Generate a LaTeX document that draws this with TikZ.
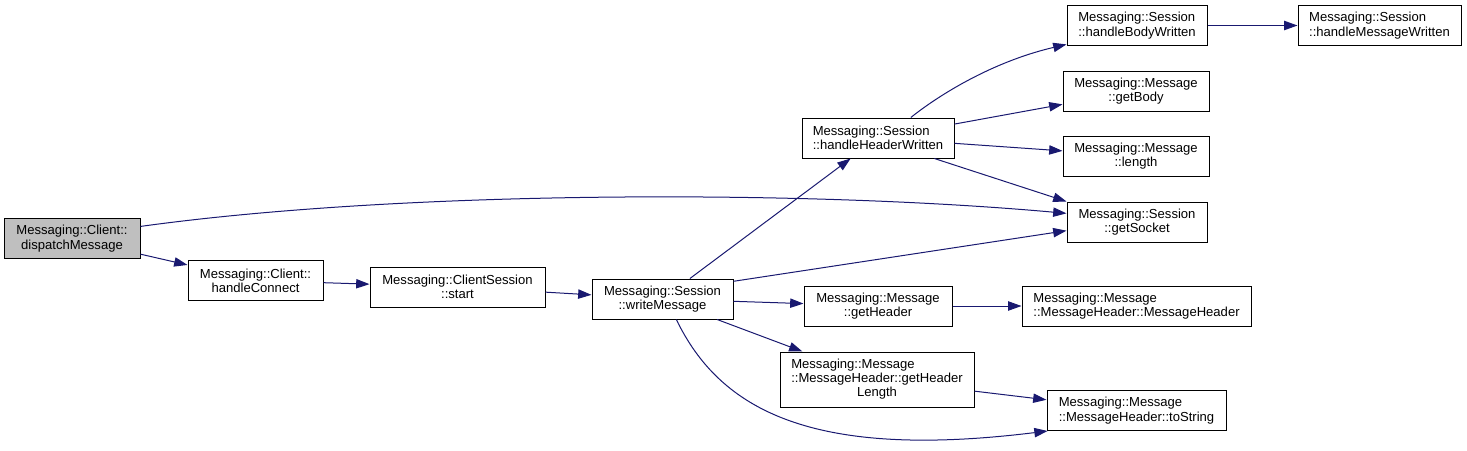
\documentclass[tikz,border=0pt]{standalone}
\usepackage{fontspec}
\setmainfont{Liberation Sans}
\usetikzlibrary{arrows.meta}
\definecolor{DoxEdge}{RGB}{25,25,112}
\definecolor{DoxGray}{RGB}{191,191,191}

\begin{document}
\begin{tikzpicture}[x=0.75pt, y=-0.75pt,
    fn/.style={rectangle, draw=black, line width=0.75pt, fill=white,
               inner sep=2pt, minimum height=30pt, align=center,
               font=\fontsize{9.8}{10.7}\selectfont},
    fnl/.style={fn, align=left},
    call/.style={-{Triangle[length=10pt, width=7pt]}, DoxEdge, line width=0.75pt}
  ]
  \useasboundingbox (0,0) rectangle (1467,450);
  % Caller chain
  \node[fn, fill=DoxGray, minimum width=102pt] (dm) at (72,238.5)
        {Messaging::Client::\\dispatchMessage};
  \node[fn, minimum width=101.25pt] (hc) at (255.5,280.5)
        {Messaging::Client::\\handleConnect};
  \node[fn, minimum width=131.25pt] (st) at (457.5,287)
        {Messaging::ClientSession\\::start};
  \node[fn, minimum width=105.75pt] (wm) at (662.5,299)
        {Messaging::Session\\::writeMessage};
  % Session callees
  \node[fnl, minimum width=114pt] (hhw) at (878,138)
        {Messaging::Session\\::handleHeaderWritten};
  \node[fnl, minimum width=105pt] (hbw) at (1137,25.5)
        {Messaging::Session\\::handleBodyWritten};
  \node[fnl, minimum width=122.25pt] (hmw) at (1379.5,25.5)
        {Messaging::Session\\::handleMessageWritten};
  \node[fn, minimum width=109.5pt] (gb) at (1136,91)
        {Messaging::Message\\::getBody};
  \node[fn, minimum width=109.5pt] (len) at (1136,156)
        {Messaging::Message\\::length};
  \node[fn, minimum width=105pt] (gs) at (1137,222)
        {Messaging::Session\\::getSocket};
  % Message header callees
  \node[fn, minimum width=111pt] (gh) at (878,306)
        {Messaging::Message\\::getHeader};
  \node[fnl, minimum width=171.75pt] (mh) at (1136.5,306)
        {Messaging::Message\\::MessageHeader::MessageHeader};
  \node[fn, minimum width=145.5pt, minimum height=41.25pt] (ghl) at (877,379.5)
        {\begin{tabular}{@{}l@{}}Messaging::Message\\::MessageHeader::getHeader\\
         \multicolumn{1}{@{}c@{}}{Length}\end{tabular}};
  \node[fnl, minimum width=134.25pt] (ts) at (1136.5,410.5)
        {Messaging::Message\\::MessageHeader::toString};

  % Calls
  \draw[call] (dm) -- (hc);
  \draw[call] (dm.10) .. controls +(260,-36) and +(-267,-24) .. (gs.173);
  \draw[call] (hc) -- (st);
  \draw[call] (st) -- (wm);
  \draw[call] (wm) -- (hhw);
  \draw[call] (wm.14) -- (gs.187);
  \draw[call] (wm) -- (gh);
  \draw[call] (wm) -- (ghl);
  \draw[call] (wm.-56) .. controls +(44,91) and +(-235,29) .. (ts.193);
  \draw[call] (hhw.32) .. controls +(25,-20) and +(-77,18) .. (hbw.195);
  \draw[call] (hhw) -- (gb);
  \draw[call] (hhw) -- (len);
  \draw[call] (hhw.-20) -- (gs.north west);
  \draw[call] (hbw) -- (hmw);
  \draw[call] (gh) -- (mh);
  \draw[call] (ghl) -- (ts);
\end{tikzpicture}
\end{document}
